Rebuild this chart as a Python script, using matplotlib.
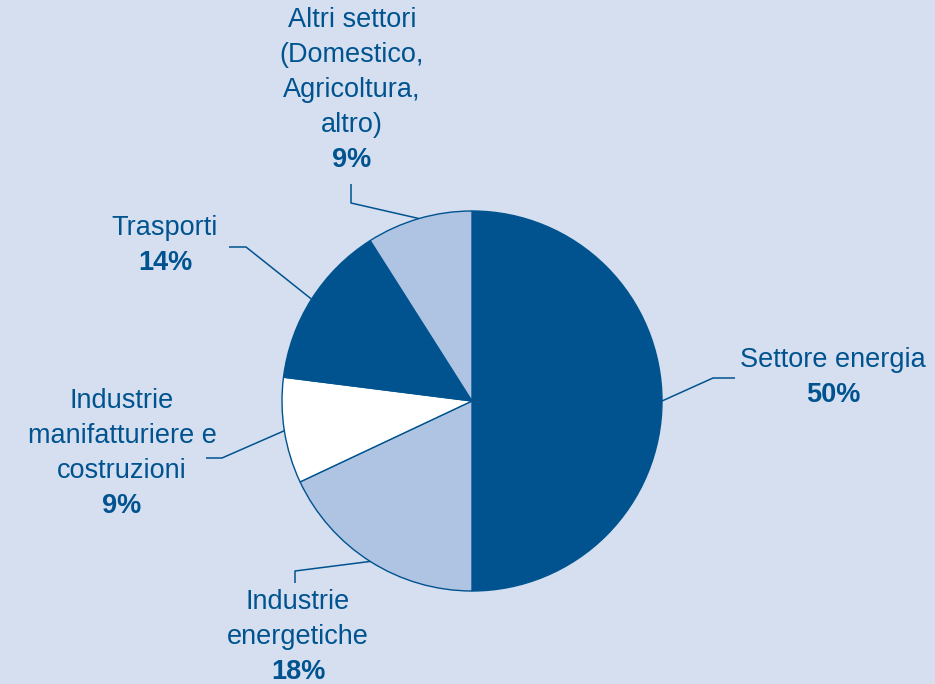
import numpy as np
import matplotlib
matplotlib.use("Agg")
from matplotlib import pyplot as plt

# slices, clockwise from 12 o'clock
labels = [
    ["Settore energia"],
    ["Industrie", "energetiche"],
    ["Industrie", "manifatturiere e", "costruzioni"],
    ["Trasporti"],
    ["Altri settori", "(Domestico,", "Agricoltura,", "altro)"],
]
shares = [50, 18, 9, 14, 9]

DARK = "#00538f"
LIGHT = "#afc4e3"
BG = "#d5dff0"
slice_colors = [DARK, LIGHT, "white", DARK, LIGHT]

W, H = 935, 684
CX, CY, R = 472, 401, 190

# label layout in pixel coords (top-left origin): text x, first line y, elbow, leader end
layout = [
    dict(x=833, y=360, elbow=(713, 378), end=(735, 378)),
    dict(x=298, y=602, elbow=(295, 571), end=(295, 583)),
    dict(x=122, y=401, elbow=(222, 458), end=(206, 458)),
    dict(x=165, y=228, elbow=(246, 247), end=(229, 247)),
    dict(x=352, y=20, elbow=(351, 203), end=(351, 184)),
]
LINE_STEP = 35


def py(y):
    return H - y


fig = plt.figure(figsize=(W / 100, H / 100), dpi=100)
fig.patch.set_facecolor(BG)
ax = fig.add_axes([0, 0, 1, 1])

wedges, _ = ax.pie(shares, colors=slice_colors, startangle=90, counterclock=False,
                   center=(CX, py(CY)), radius=R, frame=True,
                   wedgeprops=dict(edgecolor=DARK, linewidth=1.0))
ax.set_xlim(0, W)
ax.set_ylim(0, H)
ax.set_aspect("equal")
ax.axis("off")

plt.rcParams["font.family"] = ["Liberation Sans", "DejaVu Sans"]
FS = 19.5

for w, lab, share, lay in zip(wedges, labels, shares, layout):
    mid = np.deg2rad((w.theta1 + w.theta2) / 2)
    sx = CX + R * np.cos(mid)
    sy = py(CY) + R * np.sin(mid)
    ex, ey = lay["elbow"]
    tx, ty = lay["end"]
    ax.plot([sx, ex, tx], [sy, py(ey), py(ty)], color=DARK, lw=1.1, solid_capstyle="butt")
    for i, line in enumerate(lab):
        ax.text(lay["x"], py(lay["y"] + i * LINE_STEP), line, ha="center", va="center",
                fontsize=FS, color=DARK)
    ax.text(lay["x"], py(lay["y"] + len(lab) * LINE_STEP), f"{share}%", ha="center",
            va="center", fontsize=FS, color=DARK, fontweight="bold")

fig.savefig("out.png", dpi=100, facecolor=BG)
